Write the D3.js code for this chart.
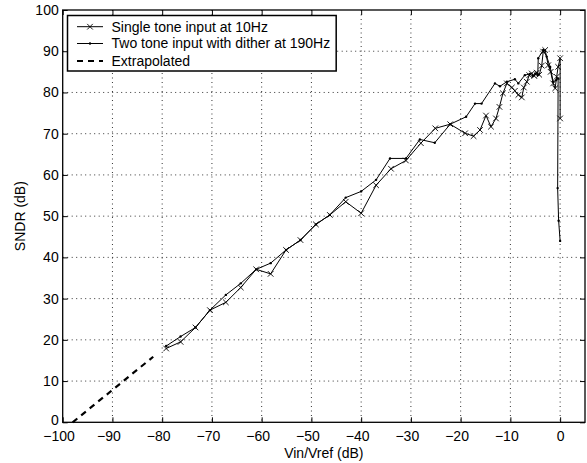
<!DOCTYPE html>
<html><head><meta charset="utf-8">
<script src="https://cdn.jsdelivr.net/npm/d3@7"></script>
<style>body{margin:0;background:#fff}svg{display:block}text{font-family:"Liberation Sans",Arial,sans-serif}</style>
</head><body><svg id="c" width="587" height="463"></svg>
<script>
const xTicks = [-100,-90,-80,-70,-60,-50,-40,-30,-20,-10,0];
const yTicks = [0,10,20,30,40,50,60,70,80,90,100];
const singleX = [-79.2,-76.3,-73.3,-70.4,-67.2,-64.2,-61.1,-58.2,-55.1,-52.2,-49.1,-46.3,-43.1,-40.0,-37.0,-34.0,-31.0,-28.0,-25.1,-22.1,-19.1,-17.4,-16.1,-14.9,-13.9,-12.9,-12.2,-11.5,-10.7,-9.7,-9.1,-8.4,-7.7,-7.3,-6.7,-6.2,-5.7,-5.2,-4.7,-4.2,-3.7,-3.4,-3.0,-2.4,-1.9,-1.4,-1.0,-0.7,-0.4,0.0,0.0];
const singleY = [17.9,19.5,23.0,27.2,29.1,32.7,37.1,36.0,41.8,44.2,48.0,50.3,53.5,50.7,57.5,61.5,63.5,67.7,71.3,72.3,70.1,69.4,70.9,74.4,71.7,73.7,76.5,79.8,82.2,81.2,80.4,79.4,78.8,81.2,82.6,84.2,84.6,84.0,84.8,84.3,86.5,89.9,90.3,86.6,85.0,82.2,81.0,83.8,86.2,88.3,73.7];
const twoX = [-79.2,-76.3,-73.3,-70.4,-67.2,-64.2,-61.1,-58.2,-55.1,-52.2,-49.1,-46.3,-43.1,-40.0,-37.0,-34.2,-31.0,-28.2,-25.2,-22.1,-18.9,-17.1,-15.8,-13.1,-12.1,-10.7,-9.1,-8.4,-7.1,-6.1,-5.5,-5.0,-4.5,-4.4,-3.4,-2.7,-2.0,-1.4,-0.8,-0.4,-0.5,-0.3,0.0];
const twoY = [18.5,20.8,23.0,27.2,30.9,33.7,37.1,38.6,41.8,44.2,48.0,50.3,54.5,56.0,58.8,64.0,64.0,68.6,67.8,72.3,74.1,77.3,77.3,82.2,81.5,82.6,83.2,82.2,84.2,84.5,84.0,84.6,84.2,88.3,90.3,88.7,86.2,82.6,83.0,83.4,56.8,48.9,44.0];
const extraX = [-98.0,-81.8];
const extraY = [0.0,15.9];
const legendLabels = ["Single tone input at 10Hz","Two tone input with dither at 190Hz","Extrapolated"];

const svg = d3.select("#c");
const L = 62.7, R = 585, T = 10, B = 422.3;
const x = d3.scaleLinear().domain([-100,5]).range([L,R]);
const y = d3.scaleLinear().domain([0,100]).range([B,T]);

// grid
const g = svg.append("g");
g.selectAll(".gx").data(xTicks.filter(d=>d>-100)).join("line")
  .attr("x1",d=>x(d)).attr("x2",d=>x(d)).attr("y1",T).attr("y2",B)
  .attr("stroke","#000").attr("stroke-width",0.8).attr("stroke-dasharray","1,3.5");
g.selectAll(".gy").data(yTicks.filter(d=>d>0 && d<100)).join("line")
  .attr("y1",d=>y(d)).attr("y2",d=>y(d)).attr("x1",L).attr("x2",R)
  .attr("stroke","#000").attr("stroke-width",0.8).attr("stroke-dasharray","1,3.5");

// axes
const fs = 14;
const ax = svg.append("g").attr("transform",`translate(0,${B})`)
  .call(d3.axisBottom(x).tickValues(xTicks).tickSize(-5).tickPadding(9).tickFormat(d3.format("d")));
const ax2 = svg.append("g").attr("transform",`translate(0,${T})`)
  .call(d3.axisTop(x).tickValues(xTicks).tickSize(-5).tickFormat(""));
const ay = svg.append("g").attr("transform",`translate(${L},0)`)
  .call(d3.axisLeft(y).tickValues(yTicks).tickSize(-5).tickPadding(4).tickFormat(d3.format("d")));
const ay2 = svg.append("g").attr("transform",`translate(${R},0)`)
  .call(d3.axisRight(y).tickValues(yTicks).tickSize(-5).tickFormat(""));
[ax,ax2,ay,ay2].forEach(a=>{
  a.select(".domain").remove();
  a.selectAll("line").attr("stroke","#000");
  a.selectAll("text").attr("font-size",fs).attr("fill","#000").attr("font-family","Liberation Sans, Arial, sans-serif");
});
// the "0" label of the y axis sits just above the "-100" label of the x axis
ay.selectAll("text").filter(d=>d===0).attr("dy","0.15em");
// digits centred on the tick, minus sign hanging to the left
ax.selectAll("text").each(function(d){
  const t = d3.select(this);
  t.text(Math.abs(d));
  const wDigits = this.getComputedTextLength();
  if (d < 0) {
    t.text("\u2212" + Math.abs(d));
    const wFull = this.getComputedTextLength();
    t.attr("x", -(wFull - wDigits) / 2);
  }
});
svg.append("rect").attr("x",L).attr("y",T).attr("width",R-L).attr("height",B-T)
  .attr("fill","none").attr("stroke","#000").attr("stroke-width",1.3);

// labels
svg.append("text").attr("x",(L+R)/2).attr("y",458).attr("text-anchor","middle").attr("font-size",fs).text("Vin/Vref (dB)");
svg.append("text").attr("transform",`translate(25,${(T+B)/2}) rotate(-90)`).attr("text-anchor","middle").attr("font-size",fs).text("SNDR (dB)");

const line = d3.line().x(d=>x(d[0])).y(d=>y(d[1]));
const single = singleX.map((v,i)=>[v,singleY[i]]);
const two = twoX.map((v,i)=>[v,twoY[i]]);
const extra = extraX.map((v,i)=>[v,extraY[i]]);

svg.append("path").datum(extra).attr("d",line).attr("fill","none").attr("stroke","#000").attr("stroke-width",2.2).attr("stroke-dasharray","6,5");
svg.append("path").datum(two).attr("d",line).attr("fill","none").attr("stroke","#000").attr("stroke-width",1);
svg.append("path").datum(single).attr("d",line).attr("fill","none").attr("stroke","#000").attr("stroke-width",1);
svg.append("g").selectAll("circle").data(two).join("circle").attr("cx",d=>x(d[0])).attr("cy",d=>y(d[1])).attr("r",1.2).attr("fill","#000");
const xm = 2.8;
svg.append("g").selectAll("path").data(single).join("path")
  .attr("d",d=>{const cx=x(d[0]),cy=y(d[1]);return `M${cx-xm},${cy-xm}L${cx+xm},${cy+xm}M${cx-xm},${cy+xm}L${cx+xm},${cy-xm}`;})
  .attr("stroke","#000").attr("stroke-width",0.9).attr("fill","none");

// legend
const lg = svg.append("g");
const lx = 67.5, ly = 15.5;
const rows = [26.7, 43.5, 61];
const lt = lg.selectAll("text").data(legendLabels).join("text")
  .attr("x",111.5).attr("y",(d,i)=>rows[i]).attr("dy","0.35em").attr("font-size",fs).text(d=>d);
let maxW = 0; lt.each(function(){maxW=Math.max(maxW,this.getComputedTextLength());});
lg.insert("rect","text").attr("x",lx).attr("y",ly).attr("width",111.5+maxW+6-lx).attr("height",71-ly)
  .attr("fill","#fff").attr("stroke","#000").attr("stroke-width",1.5);
lg.append("line").attr("x1",77).attr("x2",103).attr("y1",rows[0]).attr("y2",rows[0]).attr("stroke","#000");
lg.append("path").attr("d",`M${90-xm},${rows[0]-xm}L${90+xm},${rows[0]+xm}M${90-xm},${rows[0]+xm}L${90+xm},${rows[0]-xm}`).attr("stroke","#000").attr("stroke-width",0.9);
lg.append("line").attr("x1",77).attr("x2",103).attr("y1",rows[1]).attr("y2",rows[1]).attr("stroke","#000");
lg.append("circle").attr("cx",90).attr("cy",rows[1]).attr("r",1.2);
lg.append("line").attr("x1",77).attr("x2",103).attr("y1",rows[2]).attr("y2",rows[2]).attr("stroke","#000").attr("stroke-width",2.2).attr("stroke-dasharray","6,5");
</script></body></html>
